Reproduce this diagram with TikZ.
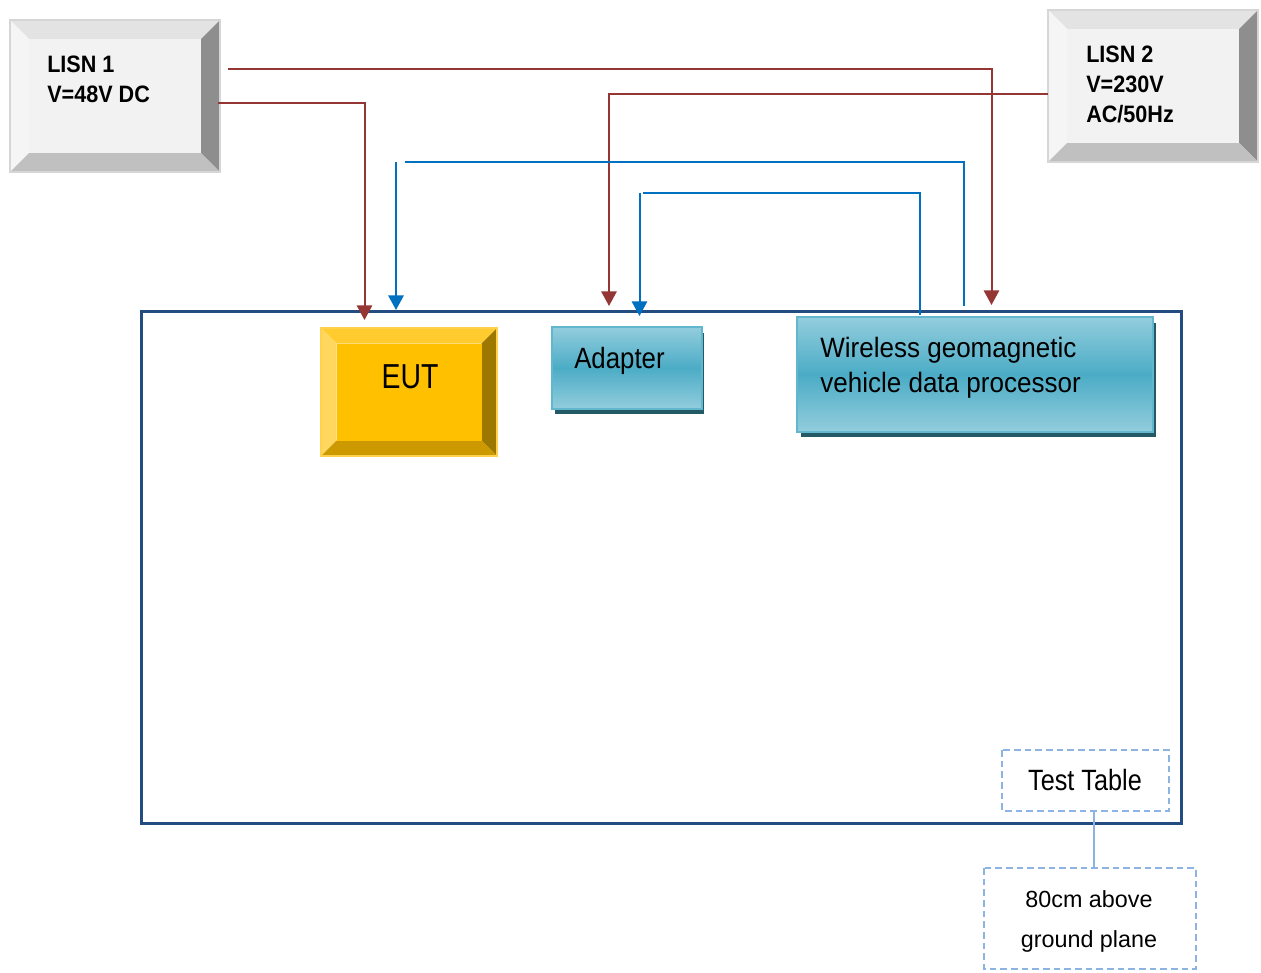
\documentclass[tikz,border=0pt]{standalone}
\usepackage{fontspec}
\usepackage{graphicx}
\setmainfont{Liberation Sans}
\usetikzlibrary{arrows.meta}
\definecolor{lisnface}{HTML}{F2F2F2}
\definecolor{lisntop}{HTML}{E3E3E3}
\definecolor{lisnleft}{HTML}{F5F5F5}
\definecolor{lisnright}{HTML}{8E8E8E}
\definecolor{lisnbot}{HTML}{C0C0C0}
\definecolor{lisnline}{HTML}{D6D6D6}
\definecolor{eutface}{HTML}{FFC000}
\definecolor{euttop}{HTML}{FFCB2E}
\definecolor{eutleft}{HTML}{FFD75E}
\definecolor{eutright}{HTML}{9C7800}
\definecolor{eutbot}{HTML}{CC9A00}
\definecolor{eutline}{HTML}{FFD24D}
\definecolor{aqlight}{HTML}{93CDDD}
\definecolor{aqmid}{HTML}{4BACC6}
\definecolor{aqline}{HTML}{62B7CE}
\definecolor{aqshadow}{HTML}{245A66}
\definecolor{tableblue}{HTML}{234C80}
\definecolor{wred}{HTML}{943634}
\definecolor{wblue}{HTML}{0070C0}
\definecolor{dashblue}{HTML}{8DB3E2}
\newcommand\bevbox[6]{%
 \fill[#6top] (#1,#2) -- (#3,#2) -- ({#3-#5},{#2+#5}) -- ({#1+#5},{#2+#5}) -- cycle;
 \fill[#6left] (#1,#2) -- ({#1+#5},{#2+#5}) -- ({#1+#5},{#4-#5}) -- (#1,#4) -- cycle;
 \fill[#6right] (#3,#2) -- (#3,#4) -- ({#3-#5},{#4-#5}) -- ({#3-#5},{#2+#5}) -- cycle;
 \fill[#6bot] (#1,#4) -- (#3,#4) -- ({#3-#5},{#4-#5}) -- ({#1+#5},{#4-#5}) -- cycle;
 \fill[#6face] ({#1+#5},{#2+#5}) rectangle ({#3-#5},{#4-#5});
 \draw[#6line, line width=1.1pt] (#1,#2) rectangle (#3,#4);
}
\newcommand\narrowtxt[2]{\scalebox{#1}[1]{#2}}
\tikzset{
 lisntext/.style={font=\fontsize{17.8}{21}\selectfont\bfseries, inner sep=0pt, anchor=base west},
 boxtext/.style={font=\fontsize{21}{25}\selectfont, inner sep=0pt, anchor=base west},
 eutext/.style={font=\fontsize{26}{30}\selectfont, inner sep=0pt, anchor=base},
 notetext/.style={font=\fontsize{17.5}{21}\selectfont, inner sep=0pt, anchor=base},
 redwire/.style={draw=wred, line width=1.5pt},
 bluewire/.style={draw=wblue, line width=1.5pt},
 tipend/.style={-{Triangle[width=11.5pt,length=11pt]}},
 dashbox/.style={draw=dashblue, line width=1.1pt, dash pattern=on 5pt off 3pt},
}
\begin{document}
\begin{tikzpicture}[x=0.75pt,y=-0.75pt]
\useasboundingbox[fill=white] (0,0) rectangle (1261,972);

% LISN boxes
\bevbox{10}{20}{220}{172}{19}{lisn}
\bevbox{1048}{10}{1258}{162}{19}{lisn}
\node[lisntext] (lisn1a) at (47,72) {\narrowtxt{0.91}{LISN 1}};
\node[lisntext] (lisn1b) at (47,102) {\narrowtxt{0.91}{V=48V DC}};
\node[lisntext] (lisn2a) at (1086,62) {\narrowtxt{0.91}{LISN 2}};
\node[lisntext] (lisn2b) at (1086,92) {\narrowtxt{0.91}{V=230V}};
\node[lisntext] (lisn2c) at (1086,122) {\narrowtxt{0.91}{AC/50Hz}};

% test table
\draw[tableblue, line width=2.25pt] (141.5,311.5) rectangle (1181,823.5);

% EUT
\bevbox{321}{328}{497}{456}{15.5}{eut}
\node[eutext] (eut) at (410,388) {\narrowtxt{0.82}{EUT}};

% Adapter
\fill[aqshadow] (555,333) rectangle (704,414);
\shade[top color=aqlight, bottom color=aqlight, middle color=aqmid] (552,327) rectangle (702,409);
\draw[aqline, line width=1.5pt] (552,327) rectangle (702,409);
\node[boxtext, font=\fontsize{22}{26}\selectfont] (adapter) at (574,368) {\narrowtxt{0.88}{Adapter}};

% Wireless processor
\fill[aqshadow] (801,323) rectangle (1156,437);
\shade[top color=aqlight, bottom color=aqlight, middle color=aqmid] (797,317) rectangle (1153,432);
\draw[aqline, line width=1.5pt] (797,317) rectangle (1153,432);
\node[boxtext] (wl1) at (820,357) {\narrowtxt{0.93}{Wireless geomagnetic}};
\node[boxtext] (wl2) at (820,392) {\narrowtxt{0.93}{vehicle data processor}};

% notes
\draw[dashbox] (1002,750) rectangle (1169,811);
\node[notetext, font=\fontsize{22}{26}\selectfont] (tt) at (1085,790) {\narrowtxt{0.86}{Test Table}};
\draw[dashbox] (984,868) rectangle (1196,969);
\node[notetext] (gp1) at (1089,907) {80cm above};
\node[notetext] (gp2) at (1089,947) {ground plane};
\coordinate (ttb) at (1094,811);
\coordinate (gpt) at (1094,868);
\draw[dashblue, line width=1.1pt] (ttb) -- (gpt);

% red wires
\coordinate (r1s) at (228,69);
\coordinate (r1c) at (991.5,69);
\coordinate (r1e) at (991.5,305);
\draw[redwire, tipend] (r1s) -- (r1c) -- (r1e);
\coordinate (r2s) at (218,103);
\coordinate (r2c) at (364.5,103);
\coordinate (r2e) at (364.5,320);
\draw[redwire, tipend] (r2s) -- (r2c) -- (r2e);
\coordinate (r3s) at (1048,94);
\coordinate (r3c) at (609,94);
\coordinate (r3e) at (609,306);
\draw[redwire, tipend] (r3s) -- (r3c) -- (r3e);

% blue wires
\coordinate (b1s) at (964,306);
\coordinate (b1c) at (964,162);
\coordinate (b1h) at (405,162);
\draw[bluewire] (b1s) -- (b1c) -- (b1h);
\coordinate (b1v) at (396,162);
\coordinate (b1e) at (396,310);
\draw[bluewire, tipend] (b1v) -- (b1e);
\coordinate (b2s) at (920,315);
\coordinate (b2c) at (920,193);
\coordinate (b2h) at (643,193);
\draw[bluewire] (b2s) -- (b2c) -- (b2h);
\coordinate (b2v) at (639.5,193);
\coordinate (b2e) at (639.5,316);
\draw[bluewire, tipend] (b2v) -- (b2e);
\end{tikzpicture}
\end{document}
